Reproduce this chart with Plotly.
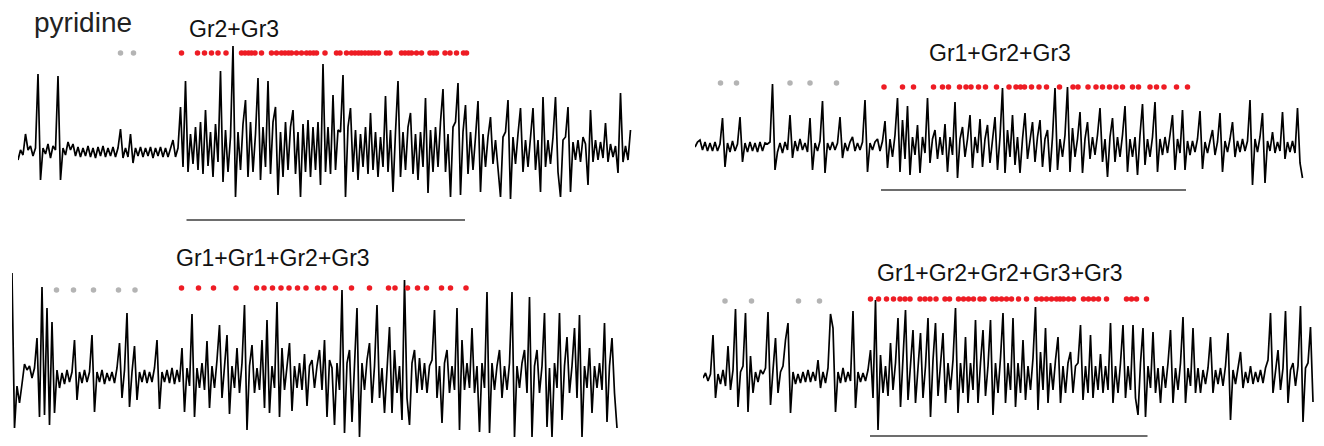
import plotly.graph_objects as go

# ---------------- data ----------------
DT = 0.05  # seconds per sample

# extracellular recordings (arbitrary units, 0 = baseline)
trace_a = [-8, 2, -3, 18, 2, 6, -4, 4, 78, -28,
           4, -2, 8, -6, 6, 2, 76, -28, 4, -3,
           10, 2, 8, -4, 5, -5, 4, -4, 6, -5,
           4, -6, 5, -4, 6, -5, 4, -4, 5, -5,
           4, 23, -6, 4, -5, 18, -11, 4, -4, 5,
           -5, 4, -4, 5, -6, 4, -4, 5, -5, 4,
           -5, 4, 12, -5, 4, 45, -15, 71, -20, 18,
           -12, 25, -18, 30, -22, 42, -14, 20, -25, 28,
           -10, 81, -30, 22, -20, 15, 106, -45, 20, -18,
           28, 52, -25, 30, -20, 18, 74, -28, 25, -15,
           71, -22, 30, 45, -43, 20, -25, 30, -18, 25,
           42, -22, 20, -45, 28, -20, 32, -25, 25, -18,
           30, -33, 88, -20, 25, -22, 57, -18, 22, 20,
           77, -45, 25, 44, -20, 22, -28, 18, -15, 25,
           -22, 39, -18, 20, -25, 15, -15, 56, -20, 22,
           -40, 20, 71, -25, 20, -18, 25, 39, -22, 18,
           -28, 20, -15, 54, -41, 22, -20, 25, -15, 30,
           63, -20, 18, -45, 25, 30, 69, -43, 20, 47,
           -22, 20, -18, 15, 51, -40, 18, -15, 15, 35,
           -12, 12, -20, -45, 15, 20, 52, -47, 15, -12,
           18, 44, -20, 12, -15, 18, 44, -18, 12, -40,
           55, -15, 12, -12, 15, 55, -20, -45, 12, 15,
           45, -40, 10, -8, 12, -10, 15, 8, -33, 42,
           -10, 12, -8, 10, -6, 29, -10, 8, -5, 6,
           -21, 59, -10, 6, -8, 22]

trace_b = [0, 5, 7, -3, 5, -4, 4, -4, 5, -4,
           3, 29, -20, 4, -5, 6, -4, 3, 30, -15,
           4, -5, 5, -4, 4, -5, 5, -4, 4, 3,
           5, 63, -23, -5, 4, -6, 5, -3, 32, -11,
           6, -4, 8, -3, 4, -5, 29, -23, 4, -4,
           6, 46, -26, 4, -3, 5, -3, 4, 30, -11,
           4, -4, 5, 10, -4, 4, -3, 5, 47, -25,
           4, -3, 5, 8, -4, 6, 26, -21, 8, -10,
           12, 49, -25, 27, -12, 41, -28, 10, -8, 22,
           -26, 10, -6, 49, -16, 8, 17, -12, 10, -8,
           23, -25, 10, -8, 45, -31, 8, 20, -10, 8,
           32, -21, 10, -6, 28, -20, 8, 22, -16, 8,
           30, -23, 10, 59, -26, 17, -10, 32, -18, 10,
           -26, 8, 34, -12, 8, 25, -15, 10, 27, -20,
           8, 17, -25, 10, 59, -23, 8, -10, 12, 60,
           -25, 19, -10, 8, 35, -26, 8, 25, -12, 10,
           -8, 12, 39, -15, 8, -30, 10, 29, -15, 10,
           -10, 12, 41, -25, 8, -10, 10, -28, 12, 43,
           -18, 8, -10, 10, 45, -25, 8, -8, 10, -6,
           12, 32, -23, 8, -6, 37, -23, 6, -8, 6,
           -5, 8, 36, -22, 5, -6, 6, 17, -8, 5,
           34, -25, 6, -5, 8, 25, -10, 6, -5, 8,
           -4, 6, 47, -38, 8, -5, 10, 34, -36, 6,
           -4, 15, -6, 5, -4, 35, -12, 5, -5, 6,
           -6, 39, -16, -31]

trace_c = [105, -50, -8, -25, -6, 14, 8, 12, 0, 10,
           40, -39, 91, -37, 70, -47, 56, -35, 8, -10,
           5, -6, 8, -4, 6, 38, -22, 6, -5, 8,
           -4, 6, 43, -34, 6, -4, 8, -6, 5, -3,
           6, -5, 10, 35, -20, 8, 65, -29, 6, 32,
           -22, 6, -4, 8, -5, 6, -4, 10, 38, -31,
           6, -4, 8, -5, 10, -6, 8, -4, 30, -34,
           10, -8, 64, -39, 10, -10, 15, -12, 37, -30,
           12, -10, 18, 53, -20, 12, 43, -36, 12, -10,
           30, -15, 15, 73, -52, 12, 33, -15, 10, -12,
           38, -30, 58, -35, 12, -10, 76, -39, 30, -12,
           10, 35, -33, 12, -10, 15, -12, 24, -28, 12,
           18, -10, 12, 28, -12, 38, -39, 18, 10, -47,
           15, -12, 88, -55, 15, 28, -44, 15, 70, -59,
           15, -12, 18, 35, -25, 12, 73, -20, 10, -35,
           15, 51, -35, 28, -15, 12, -42, 98, -20, -47,
           15, 28, -15, 20, -12, 15, -15, 12, 18, 68,
           -20, 12, -45, 15, 28, -15, 12, -12, 70, -52,
           38, -12, 15, -10, 50, -15, 12, -54, 15, -10,
           86, -55, 15, -12, 12, 28, -20, 12, -12, 15,
           86, -59, 12, -10, 15, 28, -15, 81, -59, 12,
           28, -15, 12, 65, -49, 10, -59, 15, -10, 65,
           -42, 12, 41, -15, 12, 50, -20, 63, -59, 12,
           -10, 30, -35, 12, -10, 15, -12, 55, -44, 12,
           40, -15, -50]

trace_d = [0, 5, -3, 4, 43, -20, 4, -6, 8, -8,
           32, -12, 8, 69, -29, 6, 12, 65, -34, 22,
           -15, 6, -4, 8, 4, 10, 66, -27, 8, 40,
           -15, 6, 12, 38, 55, -35, 6, -6, 4, -5,
           6, -4, 8, -4, 6, -3, 18, -10, 6, -5,
           10, 64, 50, -34, 6, -5, 10, -4, 6, -3,
           67, -30, 6, -4, 5, -3, 8, 28, -20, 78,
           -52, 23, -15, 12, -18, 35, -12, 15, 60, -29,
           20, 68, -22, 15, 48, -25, 15, 45, -20, 12,
           60, -39, 18, 55, -18, 12, 45, -25, 15, -12,
           18, 70, -35, 15, -15, 41, -25, 15, -12, 58,
           -25, 15, 48, -18, 12, 58, -37, 15, -15, 20,
           65, -25, 15, -12, 60, -29, 15, -15, 38, -22,
           12, -12, 20, 71, -32, 26, -12, 50, -25, 15,
           -12, 18, 41, -25, 12, -15, 15, 26, -15, 12,
           15, 53, -22, 12, -15, 43, -20, 12, -12, 24,
           -15, 12, -12, 55, -25, 12, -15, 15, 53, -20,
           12, -12, 53, -20, -37, 15, 50, -39, 12, -10,
           46, -15, 10, -25, 12, -10, 15, 48, -25, 10,
           -12, 15, 61, -25, 10, -8, 50, -15, 10, -15,
           8, -6, 10, 41, -15, 8, -6, 10, -8, 12,
           45, -42, 8, -6, 10, 26, -10, 6, -5, 12,
           -6, 6, -4, 8, -5, 10, 18, 65, -15, 8,
           28, -12, 10, 67, -25, 8, 15, -8, 12, 72,
           -44, 10, 15, 51, -24]

# sorted spike times (s): gray = before stimulus, red = during stimulus
gray_a = [2.05, 2.31]
red_a = [3.27, 3.59, 3.73, 3.87, 4.00, 4.16, 4.47, 4.54, 4.61, 4.67, 4.74, 4.87,
         5.07, 5.17, 5.27, 5.34, 5.41, 5.47, 5.57, 5.67, 5.77, 5.84, 5.91, 5.97,
         6.14, 6.37, 6.44, 6.57, 6.67, 6.74, 6.81, 6.87, 6.94, 7.01, 7.07, 7.14,
         7.21, 7.37, 7.44, 7.67, 7.74, 7.81, 7.87, 7.97, 8.07, 8.24, 8.31, 8.37,
         8.54, 8.64, 8.77, 8.91, 8.97]

gray_b = [0.51, 0.83, 1.90, 2.30, 2.83]
red_b = [3.78, 4.15, 4.37, 4.77, 4.95, 5.07, 5.29, 5.42, 5.52, 5.67, 5.81, 6.03,
         6.28, 6.42, 6.51, 6.59, 6.73, 6.88, 7.03, 7.29, 7.56, 7.66, 7.86, 8.02,
         8.15, 8.29, 8.42, 8.55, 8.75, 8.87, 9.10, 9.23, 9.38, 9.63, 9.85]

gray_c = [0.89, 1.23, 1.63, 2.13, 2.46]
red_c = [3.39, 3.73, 4.03, 4.48, 4.89, 5.04, 5.21, 5.38, 5.54, 5.71, 5.88, 6.11,
         6.24, 6.47, 6.79, 7.15, 7.53, 7.66, 7.91, 8.11, 8.29, 8.59, 8.77, 9.08]

gray_d = [0.44, 0.97, 1.91, 2.33]
red_d = [3.35, 3.51, 3.67, 3.81, 3.94, 4.04, 4.14, 4.34, 4.44, 4.54, 4.66, 4.84,
         4.93, 5.11, 5.21, 5.31, 5.41, 5.54, 5.62, 5.79, 5.87, 5.97, 6.07, 6.17,
         6.31, 6.47, 6.67, 6.77, 6.87, 6.97, 7.07, 7.14, 7.21, 7.31, 7.41, 7.61,
         7.71, 7.81, 7.91, 8.07, 8.47, 8.57, 8.67, 8.87]

# stimulus periods (s)
stim_a = [3.37, 8.94]
stim_b = [3.72, 9.82]
stim_c = None
stim_d = [3.34, 8.89]

labels = ["Gr2+Gr3", "Gr1+Gr2+Gr3", "Gr1+Gr1+Gr2+Gr3", "Gr1+Gr2+Gr2+Gr3+Gr3"]

# ---------------- layout (pixel geometry) ----------------
W, H = 1324, 446
PX_PER_S = 50.0
PANEL_W = 620

panels = [
    dict(trace=trace_a, gray=gray_a, red=red_a, stim=stim_a, x0=18, ytop=40, ybot=232,
         base=152, dot_y=99, gray_y=99, bar_y=-68),
    dict(trace=trace_b, gray=gray_b, red=red_b, stim=stim_b, x0=695, ytop=70, ybot=202,
         base=147, dot_y=60, gray_y=64, bar_y=-43),
    dict(trace=trace_c, gray=gray_c, red=red_c, stim=stim_c, x0=12, ytop=262, ybot=446,
         base=378, dot_y=90, gray_y=88, bar_y=-58),
    dict(trace=trace_d, gray=gray_d, red=red_d, stim=stim_d, x0=703, ytop=280, ybot=446,
         base=378, dot_y=79, gray_y=77, bar_y=-58),
]

fig = go.Figure()
layout_axes = {}
for k, p in enumerate(panels, start=1):
    xa = "x" if k == 1 else f"x{k}"
    ya = "y" if k == 1 else f"y{k}"
    t = [i * DT for i in range(len(p["trace"]))]
    fig.add_trace(go.Scatter(x=t, y=p["trace"], mode="lines",
                             line=dict(color="#000000", width=1.7),
                             xaxis=xa, yaxis=ya, hoverinfo="skip"))
    fig.add_trace(go.Scatter(x=p["gray"], y=[p["gray_y"]] * len(p["gray"]), mode="markers",
                             marker=dict(color="#b4b4b4", size=5.5), cliponaxis=False,
                             xaxis=xa, yaxis=ya))
    fig.add_trace(go.Scatter(x=p["red"], y=[p["dot_y"]] * len(p["red"]), mode="markers",
                             marker=dict(color="#ee1c24", size=5.5), cliponaxis=False,
                             xaxis=xa, yaxis=ya))
    if p["stim"]:
        fig.add_trace(go.Scatter(x=p["stim"], y=[p["bar_y"]] * 2, mode="lines",
                                 line=dict(color="#3c3c3c", width=1.5), cliponaxis=False,
                                 xaxis=xa, yaxis=ya))
    axname_x = "xaxis" if k == 1 else f"xaxis{k}"
    axname_y = "yaxis" if k == 1 else f"yaxis{k}"
    layout_axes[axname_x] = dict(domain=[p["x0"] / W, (p["x0"] + PANEL_W) / W],
                                 range=[0, PANEL_W / PX_PER_S], visible=False,
                                 anchor=ya, fixedrange=True)
    layout_axes[axname_y] = dict(domain=[1 - p["ybot"] / H, 1 - p["ytop"] / H],
                                 range=[p["base"] - p["ybot"], p["base"] - p["ytop"]],
                                 visible=False, anchor=xa, fixedrange=True)

text_pos = [(234, 28.5), (1000, 53), (272.5, 258), (999.5, 273)]
annotations = [dict(x=x / W, y=1 - y / H, xref="paper", yref="paper", text=lab,
                    showarrow=False, xanchor="center", yanchor="middle",
                    font=dict(family="Liberation Sans, Arial", size=23, color="#111111"))
               for lab, (x, y) in zip(labels, text_pos)]
annotations.append(dict(x=83 / W, y=1 - 22 / H, xref="paper", yref="paper", text="pyridine",
                        showarrow=False, xanchor="center", yanchor="middle",
                        font=dict(family="Liberation Sans, Arial", size=28, color="#222222")))

fig.update_layout(width=W, height=H, margin=dict(l=0, r=0, t=0, b=0),
                  paper_bgcolor="white", plot_bgcolor="white", showlegend=False,
                  hovermode=False, annotations=annotations, **layout_axes)

fig.write_html("out.html", config={"displayModeBar": False, "staticPlot": True},
               post_script="document.body.style.margin='0px';")
